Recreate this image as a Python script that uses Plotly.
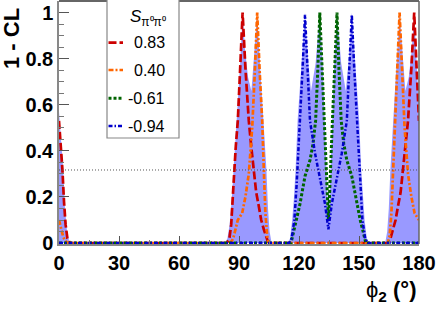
import plotly.graph_objects as go

# ---------------- data ----------------
s_labels = ["0.83", "0.40", "-0.61", "-0.94"]

# measured 1-CL scan (filled area)
fill_phi = [0, 1, 2.1, 3, 4, 5, 6,
            83, 84.2, 85.3, 86.3, 87.3, 88.3, 89.3, 90.6, 91.8, 93, 94.5, 96.2, 97.6, 99.1,
            100.6, 102.3, 103.7, 104.5, 105.3, 106.3,
            114.5, 115.5, 116.6, 117.5, 118.3, 119.3, 121.2, 123, 124.5, 126, 128.3, 130.4,
            131.8, 133, 134, 134.7, 135.4, 136.4, 137.6, 139, 141.1, 143.4, 144.9, 146.4,
            148.2, 150.1, 151.1, 151.9, 152.8, 153.9, 154.9,
            163.1, 164.1, 164.9, 165.7, 167.1, 168.8, 170.3, 171.8, 173.2, 174.9, 176.4,
            177.6, 178.8, 180]
fill_cl = [0.57, 0.45, 0.32, 0.15, 0.05, 0.01, 0,
           0, 0.02, 0.08, 0.18, 0.32, 0.45, 0.58, 0.78, 1.0, 0.84, 0.72, 0.66, 0.82, 1.0,
           0.76, 0.53, 0.32, 0.15, 0.05, 0,
           0, 0.02, 0.10, 0.20, 0.32, 0.53, 0.78, 1.0, 0.80, 0.66, 0.78, 1.0,
           0.78, 0.53, 0.25, 0.05, 0.25, 0.53, 0.78, 1.0, 0.78, 0.66, 0.80, 1.0,
           0.78, 0.53, 0.32, 0.20, 0.10, 0.02, 0,
           0, 0.05, 0.15, 0.32, 0.53, 0.76, 1.0, 0.82, 0.66, 0.72, 0.84,
           1.0, 0.78, 0.57]

# S = 0.83
red_phi = [0, 1, 1.7, 2.5, 3.3, 4.2, 5.5,
           83.9, 85.2, 86.1, 86.9, 87.7, 88.4, 89.4, 90.6, 91.8,
           93.2, 94.9, 96.1, 97.4, 98.6, 99.9, 101.1, 102.4, 103.5, 104.5, 105.5,
           163.9, 164.9, 165.9, 167.0, 168.3, 169.5, 170.8, 172.0, 173.3, 174.5, 176.2, 177.6,
           178.8, 180]
red_cl = [0.53, 0.42, 0.32, 0.18, 0.08, 0.02, 0,
          0, 0.02, 0.08, 0.18, 0.32, 0.42, 0.53, 0.76, 1.0,
          0.76, 0.53, 0.42, 0.32, 0.22, 0.16, 0.10, 0.06, 0.025, 0.005, 0,
          0, 0.005, 0.025, 0.06, 0.10, 0.16, 0.22, 0.32, 0.42, 0.53, 0.76, 1.0,
          0.76, 0.53]

# S = 0.40
orange_phi = [0, 1, 2, 3, 4.5,
              84.9, 86.5, 87.4, 88.4, 89.4, 91.6, 93.2, 94.9, 96.6, 97.9, 99.1,
              100.3, 101.6, 102.4, 103.2, 104.1, 105,
              164.4, 165.3, 166.2, 167.0, 167.8, 169.1, 170.3,
              171.5, 172.8, 174.5, 176.2, 177.8, 180]
orange_cl = [0.10, 0.06, 0.03, 0.01, 0,
             0, 0.01, 0.03, 0.06, 0.10, 0.13, 0.20, 0.30, 0.50, 0.74, 1.0,
             0.75, 0.53, 0.32, 0.13, 0.03, 0,
             0, 0.03, 0.13, 0.32, 0.53, 0.75, 1.0,
             0.74, 0.50, 0.30, 0.20, 0.13, 0.10]

# S = -0.61
green_phi = [0, 116, 117.2, 118.8, 120.5, 123, 125.5, 127, 128.3, 129.4, 130.4,
             131.6, 132.7, 133.8, 134.3, 134.7, 135.1, 135.6, 136.7, 137.8, 139.0,
             140.0, 141.1, 142.4, 143.9, 146.4, 148.9, 150.6, 152.2, 153.4, 180]
green_cl = [0, 0, 0.045, 0.10, 0.17, 0.29, 0.36, 0.43, 0.53, 0.75, 1.0,
            0.75, 0.53, 0.30, 0.17, 0.10, 0.17, 0.30, 0.53, 0.75, 1.0,
            0.75, 0.53, 0.43, 0.36, 0.29, 0.17, 0.10, 0.045, 0, 0]

# S = -0.94
blue_phi = [0, 115, 116.3, 117.7, 118.8, 119.7, 120.5, 121.8, 123,
            124.2, 125.5, 128, 130.5, 133, 134.7, 136.4, 138.9, 141.4, 143.9, 145.2, 146.4,
            147.6, 148.9, 149.7, 150.6, 151.7, 153.1, 154.4, 180]
blue_cl = [0, 0, 0.02, 0.10, 0.25, 0.39, 0.53, 0.76, 0.99,
           0.76, 0.53, 0.39, 0.28, 0.17, 0.06, 0.17, 0.28, 0.39, 0.53, 0.76, 0.99,
           0.76, 0.53, 0.39, 0.25, 0.10, 0.02, 0, 0]

one_sigma = 0.317
x_ticks = [0, 30, 60, 90, 120, 150, 180]

# ---------------- styles ----------------
styles = [
    dict(color="#cc0000", dash="8px,3px", width=2.7),
    dict(color="#ff6600", dash="5px,2px,2px,2px", width=2.7),
    dict(color="#006400", dash="3px,2px", width=3),
    dict(color="#0000cc", dash="4px,2px,1.5px,2px", width=2.5),
]
series = [(red_phi, red_cl), (orange_phi, orange_cl), (green_phi, green_cl), (blue_phi, blue_cl)]

fig = go.Figure()
fig.add_trace(go.Scatter(x=fill_phi, y=fill_cl, mode="lines", fill="tozeroy",
                         fillcolor="rgb(153,153,255)", line=dict(width=0, color="rgb(153,153,255)"),
                         showlegend=False, hoverinfo="skip"))
for (px, py), st, lab in zip(series, styles, s_labels):
    fig.add_trace(go.Scatter(x=px, y=py, mode="lines", line=st, name=lab, showlegend=False))

# plot geometry helpers (paper coords)
W, H = 436, 310
L, R, T, B = 59, 17, 1, 66
pw, ph = W - L - R, H - T - B
def px2xp(x):
    return (x - L) / pw
def py2yp(y):
    return (H - B - y) / ph

shapes = []
# 1-sigma dotted line
shapes.append(dict(type="line", xref="paper", yref="y", x0=0, x1=1, y0=one_sigma, y1=one_sigma,
                   line=dict(color="#555555", width=1, dash="1px,2px"), layer="above"))
# top and right frame
shapes.append(dict(type="line", xref="paper", yref="paper", x0=0, x1=1, y0=1, y1=1,
                   line=dict(color="#333333", width=1.5), layer="above"))
shapes.append(dict(type="line", xref="paper", yref="paper", x0=1, x1=1, y0=0, y1=1,
                   line=dict(color="#666666", width=1.5), layer="above"))
# legend box
shapes.append(dict(type="rect", xref="paper", yref="paper",
                   x0=px2xp(107), x1=px2xp(179), y0=py2yp(138), y1=py2yp(-3),
                   fillcolor="white", line=dict(color="#888888", width=1.2), layer="above"))
leg_y = [42.7, 70, 98.3, 126]
annotations = []
for yy, st, lab in zip(leg_y, styles, s_labels):
    shapes.append(dict(type="line", xref="paper", yref="paper",
                       x0=px2xp(108.5), x1=px2xp(123), y0=py2yp(yy), y1=py2yp(yy),
                       line=st, layer="above"))
    annotations.append(dict(xref="paper", yref="paper", x=px2xp(167), y=py2yp(yy),
                            xanchor="right", yanchor="middle", text=lab, showarrow=False,
                            font=dict(family="Liberation Sans", size=16, color="black")))
annotations.append(dict(xref="paper", yref="paper", x=px2xp(148), y=py2yp(18),
                        xanchor="center", yanchor="middle",
                        text="<i>S</i><sub>π⁰π⁰</sub>", showarrow=False,
                        font=dict(family="Liberation Sans", size=17, color="black")))
# axis titles
annotations.append(dict(xref="paper", yref="paper", x=px2xp(11.5), y=py2yp(38.5),
                        xanchor="center", yanchor="middle", textangle=-90,
                        text="<b>1 - CL</b>", showarrow=False,
                        font=dict(family="Liberation Sans", size=22, color="black")))
annotations.append(dict(xref="paper", yref="paper", x=px2xp(418), y=py2yp(291),
                        xanchor="right", yanchor="middle",
                        text="ϕ<sub><b>2</b></sub> <b>(°)</b>", showarrow=False,
                        font=dict(family="Liberation Sans", size=22, color="black")))

tickfont = dict(family="Liberation Sans", size=20, color="black", weight="bold")
fig.update_layout(
    width=W, height=H, margin=dict(l=L, r=R, t=T, b=B, autoexpand=False),
    paper_bgcolor="white", plot_bgcolor="white",
    shapes=shapes, annotations=annotations, showlegend=False,
    xaxis=dict(range=[0, 180], tickvals=x_ticks, ticks="inside", ticklen=8, tickwidth=1,
               tickcolor="#555555", showline=True, linecolor="#888888", linewidth=1.5,
               showgrid=False, zeroline=False, tickfont=tickfont, ticklabelstandoff=0,
               automargin=False,
               minor=dict(dtick=15, tick0=0, ticks="inside", ticklen=4, tickcolor="#777777")),
    yaxis=dict(range=[-0.004, 1.05], dtick=0.2, tick0=0, ticks="inside", ticklen=10, tickwidth=1,
               tickcolor="#555555", showline=True, linecolor="#888888", linewidth=1.5,
               showgrid=False, zeroline=False, tickfont=tickfont, ticklabelstandoff=0,
               automargin=False,
               minor=dict(dtick=0.05, tick0=0, ticks="inside", ticklen=5, tickcolor="#777777")),
)
fig.write_html("out.html", config={"displayModeBar": False},
               post_script="document.body.style.margin='0px';")
